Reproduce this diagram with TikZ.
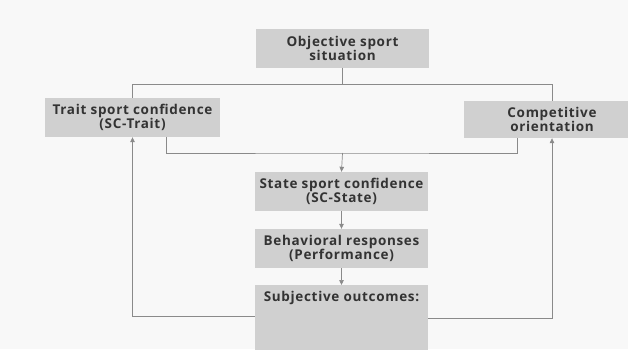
\documentclass[tikz,border=0pt]{standalone}
\usepackage{fontspec}
\setmainfont{Open Sans}[LetterSpace=5]
\usetikzlibrary{arrows.meta}

\definecolor{boxgray}{HTML}{D0D0D0}
\definecolor{linegray}{HTML}{8A8A8A}
\definecolor{textgray}{HTML}{333333}
\definecolor{paper}{HTML}{F8F8F8}

\tikzset{
    box/.style={fill=boxgray, text=textgray, font=\fontsize{13.5}{14}\selectfont\bfseries,
        align=center, minimum width=173pt, minimum height=39pt, inner sep=2pt},
    link/.style={draw=linegray, line width=0.7pt},
    arrowlink/.style={link, -{Triangle[length=5pt,width=4.5pt]}}
}

\begin{document}
\begin{tikzpicture}[x=1pt, y=-1pt]
    \fill[paper] (0,0) rectangle (628,349);
    \useasboundingbox (0,0) rectangle (628,349);
    \clip (0,0) rectangle (628,349);
    % boxes
    \node[box] (obj) at (342.5,48) {Objective sport\\situation};
    \node[box, minimum width=175pt] (trait) at (132.5,117.5) {Trait sport confidence\\(SC-Trait)};
    \node[box, minimum width=176pt, minimum height=37pt] (comp) at (552,119.5) {Competitive\\orientation};
    \node[box] (state) at (341.5,191.5) {State sport confidence\\(SC-State)};
    \node[box] (beh) at (341.5,248.5) {Behavioral responses\\(Performance)};
    \node[box, anchor=north, text height=14pt, text depth=58pt] (subj) at (341.5,285) {Subjective outcomes:};
    % top split
    \coordinate (topj) at (342.5,84);
    \coordinate (tl) at (trait.north |- topj);
    \coordinate (tr) at (comp.north |- topj);
    \draw[link] (obj.south) -- (topj);
    \draw[link] (trait.north) -- (tl) -- (tr) -- (comp.north);
    % merge into state
    \coordinate (midj) at (342.5,153);
    \draw[link] ([xshift=33.5pt]trait.south) |- (midj) -| ([xshift=-35pt]comp.south);
    \draw[arrowlink] (midj) -- (state.north);
    \draw[arrowlink] (state) -- (beh);
    \draw[arrowlink] (beh) -- (subj);
    % feedback
    \draw[arrowlink] ([yshift=-31pt]subj.north west) -| (trait.south);
    \draw[arrowlink] ([yshift=-33pt]subj.north east) -| (comp.south);
\end{tikzpicture}
\end{document}
